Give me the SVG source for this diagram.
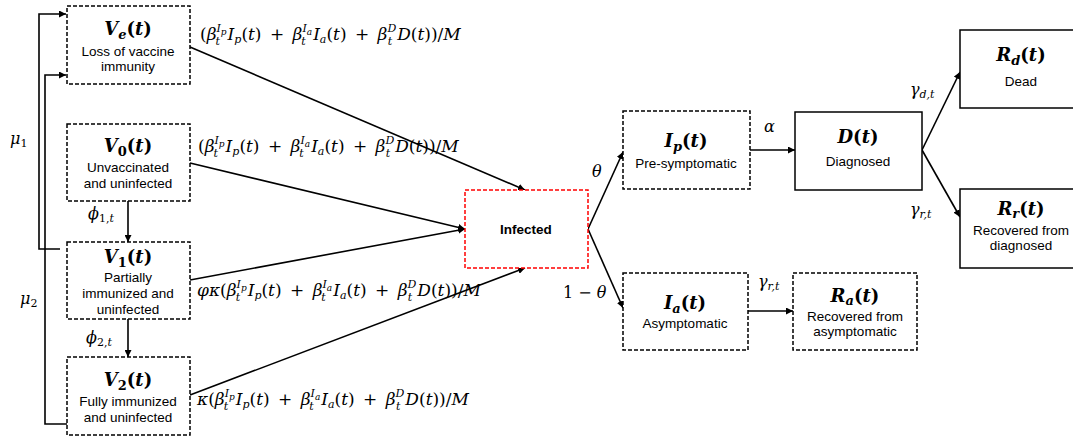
<svg xmlns="http://www.w3.org/2000/svg" width="1073" height="436" viewBox="0 0 1073 436">
<style>
.box{fill:#fff;stroke:#000;stroke-width:1.5;stroke-dasharray:4 2}
.sbox{fill:#fff;stroke:#000;stroke-width:1.5}
.rbox{fill:#fff;stroke:#f00;stroke-width:1.5;stroke-dasharray:4 2}
.c{fill:none;stroke:#000;stroke-width:1.6}
.t{font-family:"DejaVu Serif",serif;font-weight:bold;font-size:18px;text-anchor:middle}
.l{font-family:"Liberation Sans",Arial,sans-serif;font-size:13.5px;text-anchor:middle}
.b{font-family:"Liberation Sans",Arial,sans-serif;font-size:13.5px;font-weight:bold;text-anchor:middle}
.m{font-family:"DejaVu Serif",serif;font-size:16px}
.f{font-family:"DejaVu Serif",serif;font-size:17px}
.i{font-style:italic}
.sp{font-size:11px;font-style:italic}
.fs{font-size:11px;font-style:italic}
.ss{font-size:9px;font-style:italic}
.sn{font-size:11px}
</style>
<defs>
<marker id="ah" viewBox="0 0 10 10" refX="10" refY="5" markerWidth="7" markerHeight="7" markerUnits="userSpaceOnUse" orient="auto">
<path d="M0,0 L10,5 L0,10 z" fill="#000"/>
</marker>
</defs>

<g id="connectors">
<path class="c" d="M190,47 L525,190" marker-end="url(#ah)"/>
<path class="c" d="M190,163 L465,229" marker-end="url(#ah)"/>
<path class="c" d="M190,280 L465,229" marker-end="url(#ah)"/>
<path class="c" d="M190,395 L525,268" marker-end="url(#ah)"/>
<path class="c" d="M128,201 L128,242" marker-end="url(#ah)"/>
<path class="c" d="M128,319 L128,357" marker-end="url(#ah)"/>
<path class="c" d="M60,249 H39 V14 H66" marker-end="url(#ah)"/>
<path class="c" d="M67,424 H45 V75 H66" marker-end="url(#ah)"/>
<path class="c" d="M588,229 L623,152" marker-end="url(#ah)"/>
<path class="c" d="M588,229 L623,308" marker-end="url(#ah)"/>
<path class="c" d="M750,150 H795" marker-end="url(#ah)"/>
<path class="c" d="M748,311 H793" marker-end="url(#ah)"/>
<path class="c" d="M922,150 L960,72" marker-end="url(#ah)"/>
<path class="c" d="M922,150 L960,217" marker-end="url(#ah)"/>
</g>

<g id="labels">
<text class="m" x="10" y="144"><tspan class="i">μ</tspan><tspan class="sn" dy="3">1</tspan></text>
<text class="m" x="20" y="304"><tspan class="i">μ</tspan><tspan class="sn" dy="3">2</tspan></text>
<text class="m" x="88" y="219"><tspan class="i">ϕ</tspan><tspan class="sn" dy="3">1,</tspan><tspan class="sp">t</tspan></text>
<text class="m" x="86" y="343"><tspan class="i">ϕ</tspan><tspan class="sn" dy="3">2,</tspan><tspan class="sp">t</tspan></text>
<text class="m i" x="592" y="177">θ</text>
<text class="m" x="563" y="298">1 − <tspan class="i">θ</tspan></text>
<text class="m i" x="764" y="132">α</text>
<text class="m" x="758" y="287"><tspan class="i">γ</tspan><tspan class="sp" dy="3">r,t</tspan></text>
<text class="m" x="910" y="95"><tspan class="i">γ</tspan><tspan class="sp" dy="3">d,t</tspan></text>
<text class="m" x="910" y="215"><tspan class="i">γ</tspan><tspan class="sp" dy="3">r,t</tspan></text>

<text class="f" x="200" y="40">(<tspan class="i">β</tspan><tspan class="fs" dy="-8">I</tspan><tspan class="ss" dy="3">p</tspan><tspan class="fs" dx="-11" dy="10">t</tspan><tspan class="i" dx="7.6" dy="-5">I</tspan><tspan class="fs" dy="3">p</tspan><tspan dy="-3">(</tspan><tspan class="i">t</tspan>) <tspan dx="3">+</tspan> <tspan class="i" dx="3">β</tspan><tspan class="fs" dy="-8">I</tspan><tspan class="ss" dy="3">a</tspan><tspan class="fs" dx="-11" dy="10">t</tspan><tspan class="i" dx="7.6" dy="-5">I</tspan><tspan class="fs" dy="3">a</tspan><tspan dy="-3">(</tspan><tspan class="i">t</tspan>) <tspan dx="3">+</tspan> <tspan class="i" dx="3">β</tspan><tspan class="fs" dy="-8">D</tspan><tspan class="fs" dx="-8.5" dy="13">t</tspan><tspan class="i" dx="5" dy="-5">D</tspan>(<tspan class="i">t</tspan>))/<tspan class="i">M</tspan></text>

<text class="f" x="198" y="152">(<tspan class="i">β</tspan><tspan class="fs" dy="-8">I</tspan><tspan class="ss" dy="3">p</tspan><tspan class="fs" dx="-11" dy="10">t</tspan><tspan class="i" dx="7.6" dy="-5">I</tspan><tspan class="fs" dy="3">p</tspan><tspan dy="-3">(</tspan><tspan class="i">t</tspan>) <tspan dx="3">+</tspan> <tspan class="i" dx="3">β</tspan><tspan class="fs" dy="-8">I</tspan><tspan class="ss" dy="3">a</tspan><tspan class="fs" dx="-11" dy="10">t</tspan><tspan class="i" dx="7.6" dy="-5">I</tspan><tspan class="fs" dy="3">a</tspan><tspan dy="-3">(</tspan><tspan class="i">t</tspan>) <tspan dx="3">+</tspan> <tspan class="i" dx="3">β</tspan><tspan class="fs" dy="-8">D</tspan><tspan class="fs" dx="-8.5" dy="13">t</tspan><tspan class="i" dx="5" dy="-5">D</tspan>(<tspan class="i">t</tspan>))/<tspan class="i">M</tspan></text>

<text class="f" x="197" y="296"><tspan class="i">φκ</tspan>(<tspan class="i">β</tspan><tspan class="fs" dy="-8">I</tspan><tspan class="ss" dy="3">p</tspan><tspan class="fs" dx="-11" dy="10">t</tspan><tspan class="i" dx="7.6" dy="-5">I</tspan><tspan class="fs" dy="3">p</tspan><tspan dy="-3">(</tspan><tspan class="i">t</tspan>) <tspan dx="3">+</tspan> <tspan class="i" dx="3">β</tspan><tspan class="fs" dy="-8">I</tspan><tspan class="ss" dy="3">a</tspan><tspan class="fs" dx="-11" dy="10">t</tspan><tspan class="i" dx="7.6" dy="-5">I</tspan><tspan class="fs" dy="3">a</tspan><tspan dy="-3">(</tspan><tspan class="i">t</tspan>) <tspan dx="3">+</tspan> <tspan class="i" dx="3">β</tspan><tspan class="fs" dy="-8">D</tspan><tspan class="fs" dx="-8.5" dy="13">t</tspan><tspan class="i" dx="5" dy="-5">D</tspan>(<tspan class="i">t</tspan>))/<tspan class="i">M</tspan></text>

<text class="f" x="197" y="405"><tspan class="i">κ</tspan>(<tspan class="i">β</tspan><tspan class="fs" dy="-8">I</tspan><tspan class="ss" dy="3">p</tspan><tspan class="fs" dx="-11" dy="10">t</tspan><tspan class="i" dx="7.6" dy="-5">I</tspan><tspan class="fs" dy="3">p</tspan><tspan dy="-3">(</tspan><tspan class="i">t</tspan>) <tspan dx="3">+</tspan> <tspan class="i" dx="3">β</tspan><tspan class="fs" dy="-8">I</tspan><tspan class="ss" dy="3">a</tspan><tspan class="fs" dx="-11" dy="10">t</tspan><tspan class="i" dx="7.6" dy="-5">I</tspan><tspan class="fs" dy="3">a</tspan><tspan dy="-3">(</tspan><tspan class="i">t</tspan>) <tspan dx="3">+</tspan> <tspan class="i" dx="3">β</tspan><tspan class="fs" dy="-8">D</tspan><tspan class="fs" dx="-8.5" dy="13">t</tspan><tspan class="i" dx="5" dy="-5">D</tspan>(<tspan class="i">t</tspan>))/<tspan class="i">M</tspan></text>
</g>

<g id="Ve">
<rect class="box" x="67" y="6" width="123" height="78"/>
<text class="t" x="128" y="35"><tspan class="i">V</tspan><tspan class="i" font-size="13" dy="4">e</tspan><tspan dy="-4">(</tspan><tspan class="i">t</tspan>)</text>
<text class="l" x="128" y="56">Loss of vaccine</text>
<text class="l" x="128" y="71">immunity</text>
</g>
<g id="V0">
<rect class="box" x="67" y="124" width="123" height="77"/>
<text class="t" x="128" y="152"><tspan class="i">V</tspan><tspan font-size="13" dy="4">0</tspan><tspan dy="-4">(</tspan><tspan class="i">t</tspan>)</text>
<text class="l" x="128" y="172">Unvaccinated</text>
<text class="l" x="128" y="188">and uninfected</text>
</g>
<g id="V1">
<rect class="box" x="67" y="242" width="123" height="77"/>
<text class="t" x="128" y="263"><tspan class="i">V</tspan><tspan font-size="13" dy="4">1</tspan><tspan dy="-4">(</tspan><tspan class="i">t</tspan>)</text>
<text class="l" x="128" y="282">Partially</text>
<text class="l" x="128" y="298">immunized and</text>
<text class="l" x="128" y="314">uninfected</text>
</g>
<g id="V2">
<rect class="box" x="67" y="357" width="123" height="78"/>
<text class="t" x="128" y="386"><tspan class="i">V</tspan><tspan font-size="13" dy="4">2</tspan><tspan dy="-4">(</tspan><tspan class="i">t</tspan>)</text>
<text class="l" x="128" y="406">Fully immunized</text>
<text class="l" x="128" y="422">and uninfected</text>
</g>
<g id="Infected">
<rect class="rbox" x="465" y="190" width="123" height="78"/>
<text class="b" x="526" y="234">Infected</text>
</g>
<g id="Ip">
<rect class="box" x="623" y="111" width="127" height="78"/>
<text class="t" x="686" y="147"><tspan class="i">I</tspan><tspan class="i" font-size="13" dy="4">p</tspan><tspan dy="-4">(</tspan><tspan class="i">t</tspan>)</text>
<text class="l" x="686" y="168">Pre-symptomatic</text>
</g>
<g id="Ia">
<rect class="box" x="623" y="273" width="125" height="77"/>
<text class="t" x="685" y="309"><tspan class="i">I</tspan><tspan class="i" font-size="13" dy="4">a</tspan><tspan dy="-4">(</tspan><tspan class="i">t</tspan>)</text>
<text class="l" x="685" y="328">Asymptomatic</text>
</g>
<g id="Ra">
<rect class="box" x="793" y="273" width="124" height="77"/>
<text class="t" x="855" y="302"><tspan class="i">R</tspan><tspan class="i" font-size="13" dy="3">a</tspan><tspan dy="-3">(</tspan><tspan class="i">t</tspan>)</text>
<text class="l" x="855" y="321">Recovered from</text>
<text class="l" x="855" y="336">asymptomatic</text>
</g>
<g id="D">
<rect class="sbox" x="795" y="112" width="127" height="78"/>
<text class="t" x="858" y="143"><tspan class="i">D</tspan>(<tspan class="i">t</tspan>)</text>
<text class="l" x="858" y="166">Diagnosed</text>
</g>
<g id="Rd">
<rect class="sbox" x="960" y="30" width="125" height="78"/>
<text class="t" x="1021" y="61"><tspan class="i">R</tspan><tspan class="i" font-size="13" dy="4">d</tspan><tspan dy="-4">(</tspan><tspan class="i">t</tspan>)</text>
<text class="l" x="1021" y="86">Dead</text>
</g>
<g id="Rr">
<rect class="sbox" x="960" y="189" width="125" height="79"/>
<text class="t" x="1021" y="215"><tspan class="i">R</tspan><tspan class="i" font-size="13" dy="3">r</tspan><tspan dy="-3">(</tspan><tspan class="i">t</tspan>)</text>
<text class="l" x="1021" y="235">Recovered from</text>
<text class="l" x="1021" y="250">diagnosed</text>
</g>
</svg>
